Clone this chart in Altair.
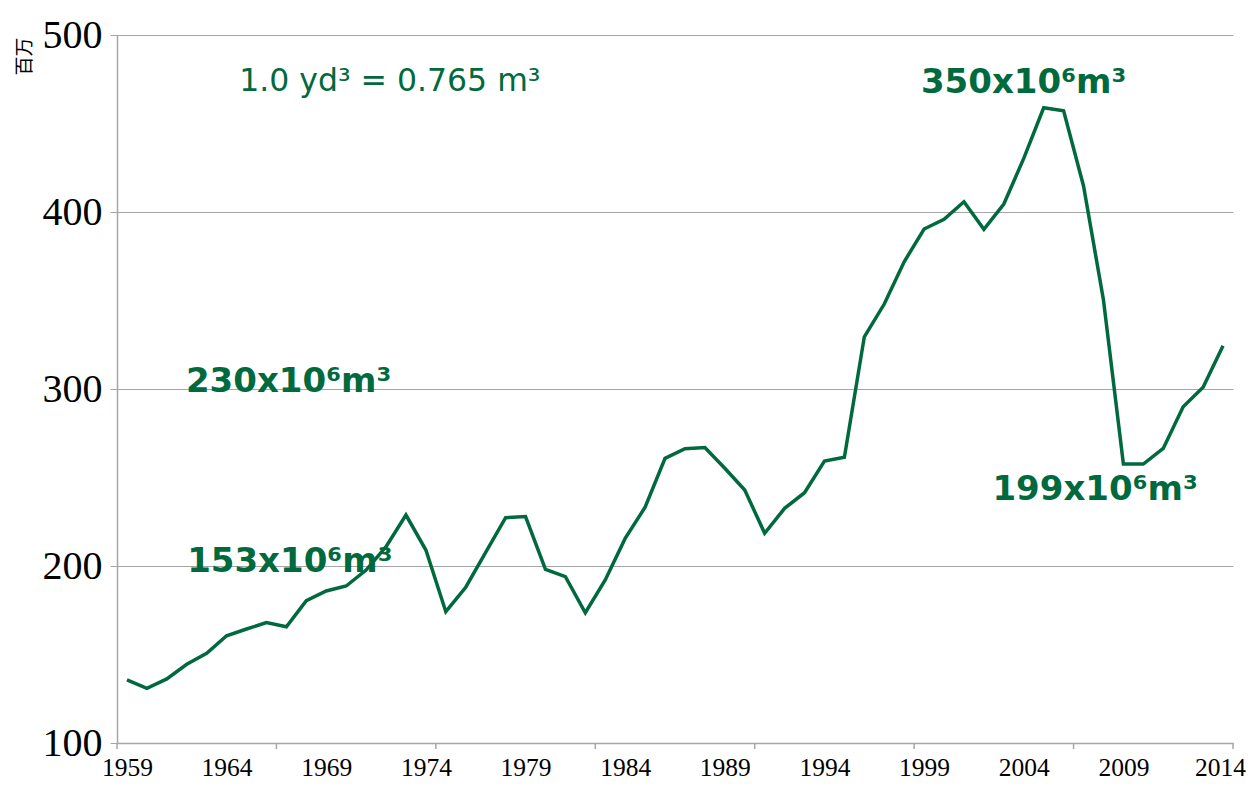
import altair as alt
import pandas as pd

years = list(range(1959, 2015))
values = [135.6, 130.9, 136.2, 144.5, 150.7, 160.6, 164.4, 168.0, 165.7, 180.4,
          185.9, 188.7, 197.7, 210.9, 228.8, 209.0, 174.2, 188.0, 207.7, 227.3,
          227.9, 198.1, 194.0, 173.6, 192.1, 215.6, 233.2, 260.8, 266.3, 266.9,
          255.2, 242.9, 218.5, 232.6, 241.4, 259.3, 261.4, 329.5, 348.0, 371.9,
          390.4, 395.9, 405.8, 390.2, 404.5, 430.3, 458.9, 457.2, 414.7, 350.3,
          257.6, 257.6, 266.4, 290.0, 301.0, 324.5]

label_years = [1959, 1964, 1969, 1974, 1979, 1984, 1989, 1994, 1999, 2004, 2009, 2014]
tick_years = [1958.5, 1966.5, 1974.5, 1982.5, 1990.5, 1998.5, 2006.5, 2014.5]

ann_text = ["350x10⁶m³", "230x10⁶m³", "153x10⁶m³", "199x10⁶m³"]
ann_x = [1998.84, 1961.96, 1962.02, 2002.43]
ann_y = [467.4, 298.5, 196.8, 237.5]

note_text = ["1.0 yd³ = 0.765 m³"]
note_x = [1964.63]
note_y = [468.5]

GREEN = "#006A3E"
W, H = 1116, 708

df = pd.DataFrame({"year": years, "value": values})
ann = pd.DataFrame({"t": ann_text, "x": ann_x, "y": ann_y})
note = pd.DataFrame({"t": note_text, "x": note_x, "y": note_y})
ticks = pd.DataFrame({"x": tick_years})

xscale = alt.Scale(domain=[1958.5, 2014.5], nice=False, zero=False)
yscale = alt.Scale(domain=[100, 500], nice=False, zero=False)

line = alt.Chart(df).mark_line(color=GREEN, strokeWidth=3.5, strokeJoin="miter").encode(
    x=alt.X("year:Q", scale=xscale,
            axis=alt.Axis(values=label_years, format="d", title=None, ticks=False,
                          grid=False, domainColor="#A6A6A6", domainWidth=1.5,
                          labelFont="Liberation Serif", labelFontSize=25.5,
                          labelColor="black", labelPadding=12, labelFlush=False,
                          labelOffset={"condition": {"test": "datum.value === 2014", "value": -3},
                                       "value": 0})),
    y=alt.Y("value:Q", scale=yscale,
            axis=alt.Axis(values=[100, 200, 300, 400, 500], title="百万",
                          titleFont="Noto Sans CJK SC", titleFontSize=19,
                          titleFontWeight="normal", titleColor="black",
                          titleAngle=270, titleX=-93, titleY=21,
                          titleAlign="center", titleBaseline="middle",
                          grid=True, gridColor="#A6A6A6", gridWidth=1,
                          domainColor="#A6A6A6", domainWidth=1.5,
                          tickColor="#A6A6A6", tickSize=7,
                          labelFont="Liberation Serif", labelFontSize=40,
                          labelColor="black", labelPadding=8, labelFlush=False)),
)

xticks = alt.Chart(ticks).mark_rule(color="#A6A6A6", strokeWidth=1.5).encode(
    x=alt.X("x:Q", scale=xscale),
    y=alt.value(H),
    y2=alt.value(H + 6),
)

anns = alt.Chart(ann).mark_text(
    font="DejaVu Sans", fontWeight="bold", fontSize=34, color=GREEN,
    align="left", baseline="alphabetic").encode(
    x=alt.X("x:Q", scale=xscale), y=alt.Y("y:Q", scale=yscale), text="t:N")

notes = alt.Chart(note).mark_text(
    font="DejaVu Sans", fontSize=31.5, color=GREEN,
    align="left", baseline="alphabetic").encode(
    x=alt.X("x:Q", scale=xscale), y=alt.Y("y:Q", scale=yscale), text="t:N")

chart = alt.layer(line, xticks, anns, notes).properties(
    width=W, height=H,
    autosize=alt.AutoSizeParams(type="none"),
    padding={"left": 109, "top": 27, "right": 13, "bottom": 40},
    background="white",
).configure_view(stroke=None)

chart.save("out.html", embed_options={"renderer": "svg", "actions": False})
